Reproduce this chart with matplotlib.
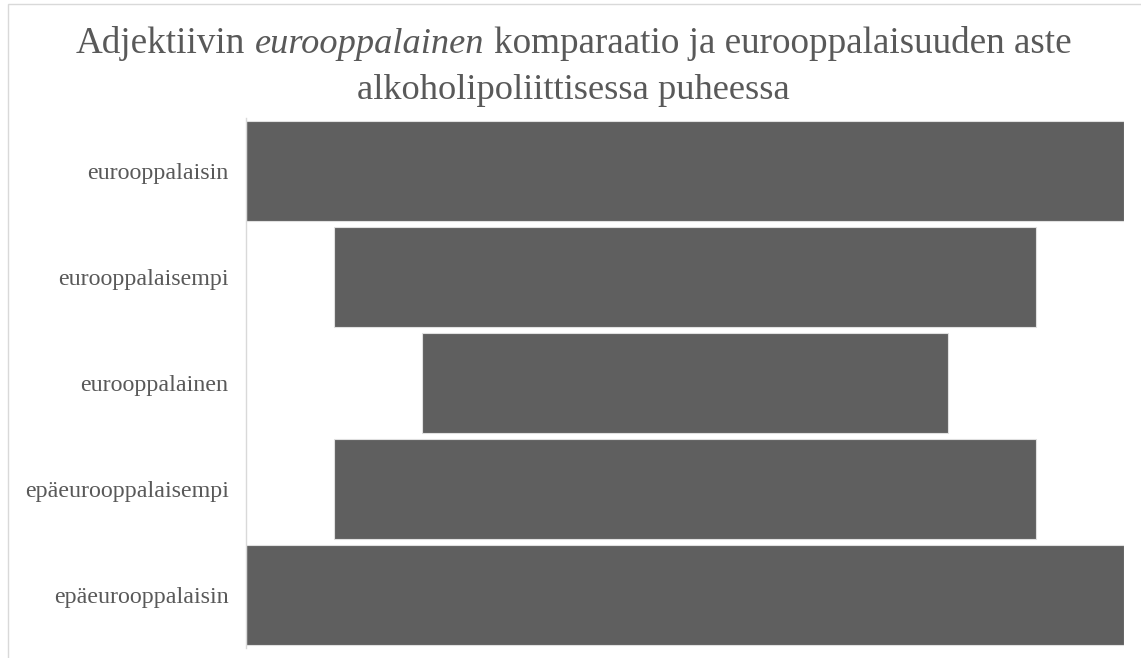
import matplotlib.pyplot as plt
from matplotlib.patches import Rectangle

categories = ['eurooppalaisin', 'eurooppalaisempi', 'eurooppalainen',
              'epäeurooppalaisempi', 'epäeurooppalaisin']
values = [5, 4, 3, 4, 5]

title_line1 = [('Adjektiivin', 'normal'), ('eurooppalainen', 'italic'),
               ('komparaatio ja eurooppalaisuuden aste', 'normal')]
title_line2 = 'alkoholipoliittisessa puheessa'

plt.rcParams['font.family'] = 'Liberation Serif'
text_color = '#595959'
bar_color = '#5f5f5f'

fig = plt.figure(figsize=(11.41, 6.58), dpi=100)
W, H = 1141, 658

# light frame around the chart area
fig.patches.append(Rectangle((8 / W, -0.1), 1.2, 1 - 4 / H + 0.1, transform=fig.transFigure,
                             fill=False, edgecolor='#d9d9d9', linewidth=1))

ax = fig.add_axes([246 / W, 1 - 648 / H, 878 / W, 530 / H])
top = max(values)
y = list(range(len(categories)))
lefts = [(top - v) / 2 for v in values]
ax.barh(y, values, left=lefts, height=0.935, color=bar_color,
        edgecolor='#e0e0e0', linewidth=0.8)
ax.set_xlim(0, top)
ax.set_ylim(len(categories) - 0.5, -0.5)
ax.set_yticks(y)
ax.set_yticklabels(categories, fontsize=17.3, color=text_color)
ax.tick_params(axis='y', length=0, pad=12.5)
ax.set_xticks([])
for s in ['top', 'right', 'bottom']:
    ax.spines[s].set_visible(False)
ax.spines['left'].set_color('#d9d9d9')
ax.spines['left'].set_linewidth(1)

# title with mixed styles, line by line
center_x = 573.5
space = 10
renderer = fig.canvas.get_renderer()

pieces = []
for s, style in title_line1:
    size = 26.2 if style == 'italic' else 26.7
    t = fig.text(0, 1 - 53 / H, s, fontsize=size, style=style, color=text_color,
                 ha='left', va='baseline')
    pieces.append((t, t.get_window_extent(renderer).width))
total = sum(w for _, w in pieces) + space * (len(pieces) - 1)
x = center_x - total / 2
for t, w in pieces:
    t.set_x(x / W)
    x += w + space

fig.text(573 / W, 1 - 99 / H, title_line2, fontsize=26.2, color=text_color,
         ha='center', va='baseline')

fig.savefig('out.png', dpi=100)
